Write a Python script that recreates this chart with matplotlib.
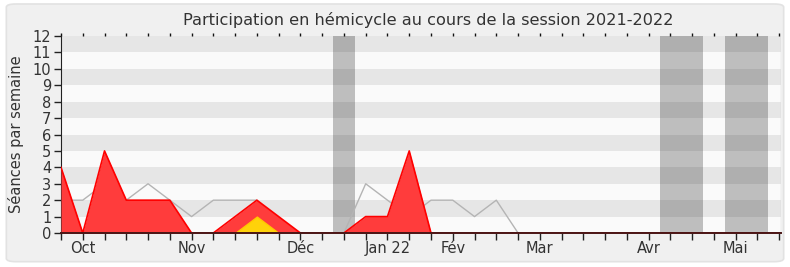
import matplotlib
matplotlib.use("Agg")
import matplotlib.pyplot as plt
from matplotlib.patches import FancyBboxPatch

# weekly values, session 2021-2022 (week index 0..33)
weeks = list(range(34))
presences = [4, 0, 5, 2, 2, 2, 0, 0, 1, 2, 1, 0, 0, 0, 1, 1, 5, 0] + [0] * 16
interventions = [0, 0, 0, 0, 0, 0, 0, 0, 0, 1, 0, 0] + [0] * 22
mediane = [2, 2, 3, 2, 3, 2, 1, 2, 2, 2, 0, 0, 0, 0, 3, 2, 1, 2, 2, 1, 2, 0] + [0] * 12

vacances = [(12.5, 13.5), (27.5, 29.5), (30.5, 32.5)]

month_pos = [1, 6, 11, 15, 18, 22, 27, 31]
month_labels = ["Oct", "Nov", "Déc", "Jan 22", "Fév", "Mar", "Avr", "Mai"]

fig = plt.figure(figsize=(7.9, 2.67), dpi=100)
fig.patch.set_facecolor("white")
frame = FancyBboxPatch((0.008, 0.02), 0.984, 0.965,
                       boxstyle="round,pad=0,rounding_size=0.012",
                       transform=fig.transFigure, facecolor="#f0f0f0",
                       edgecolor="#e2e2e2", linewidth=1.2, zorder=-10)
fig.patches.append(frame)

ax = fig.add_axes([0.0772, 0.1273, 0.9114, 0.7379])
ax.set_facecolor("#fafafa")

# horizontal stripes
for y0 in range(1, 12, 2):
    ax.axhspan(y0, y0 + 1, color="#e6e6e6", lw=0, zorder=0)

# holiday bands
for a, b in vacances:
    ax.axvspan(a, b, color="black", alpha=0.24, lw=0, zorder=1)

# yellow only around non-zero weeks
near = [v > 0 or (i > 0 and interventions[i - 1] > 0) or
        (i < len(interventions) - 1 and interventions[i + 1] > 0)
        for i, v in enumerate(interventions)]

ax.plot(weeks, mediane, color="#b4b4b4", lw=1, zorder=2)
ax.fill_between(weeks, presences, color="#ff3c3c", lw=0, zorder=3)
ax.plot(weeks, presences, color="#ff0000", lw=1.2, zorder=4)
ax.fill_between(weeks, interventions, where=near,
                color="#ffd20a", edgecolor="#ffc800", lw=1, zorder=5)

ax.set_xlim(0, 33.08)
ax.set_ylim(0, 12)
ax.set_yticks(range(13))
ax.set_xticks(weeks)
ax.set_xticklabels([month_labels[month_pos.index(w)] if w in month_pos else "" for w in weeks])
ax.tick_params(axis="both", colors="#222222", labelcolor="#333333", labelsize=10.5,
               length=5, width=1, pad=1)
ax.tick_params(axis="y", pad=2)

sec = ax.secondary_xaxis("top")
sec.set_xticks(weeks)
sec.set_xticklabels([])
sec.tick_params(length=2, width=1, color="#111111")
sec.spines["top"].set_visible(False)

for side in ["top", "right"]:
    ax.spines[side].set_visible(False)
ax.spines["left"].set_color("#222222")
ax.spines["bottom"].set_color("#4a1515")
ax.spines["bottom"].set_linewidth(1.4)
ax.spines["bottom"].set_zorder(6)
ax.axvline(33.08, color="#d8d8d8", lw=1, zorder=6)

ax.set_ylabel("Séances par semaine", fontsize=10.5, color="#333333", labelpad=6)
fig.text(0.542, 0.925, "Participation en hémicycle au cours de la session 2021-2022",
         ha="center", va="center", fontsize=11.6, color="#333333")

fig.savefig("out.png", dpi=100)
